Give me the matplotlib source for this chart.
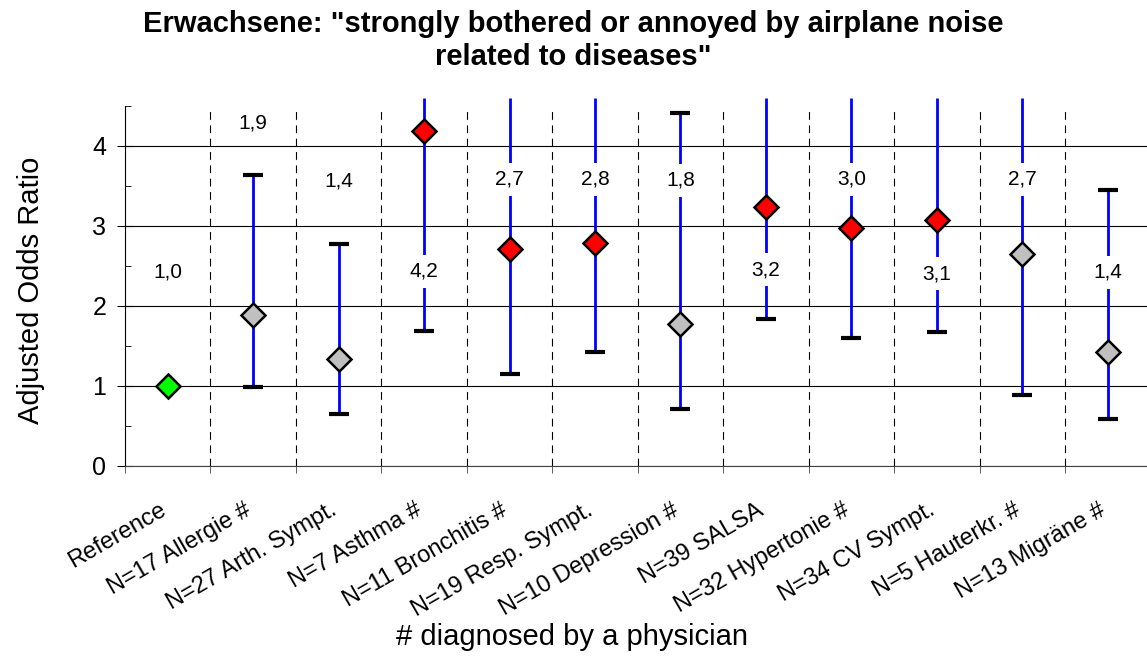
import numpy as np
import matplotlib.pyplot as plt
from matplotlib.ticker import FixedLocator, MultipleLocator
from matplotlib.transforms import ScaledTranslation

plt.rcParams['font.family'] = ['Liberation Sans', 'DejaVu Sans']

kategorien = ['Reference', 'N=17 Allergie #', 'N=27 Arth. Sympt.', 'N=7 Asthma #',
              'N=11 Bronchitis #', 'N=19 Resp. Sympt.', 'N=10 Depression #',
              'N=39 SALSA', 'N=32 Hypertonie #', 'N=34 CV Sympt.',
              'N=5 Hauterkr. #', 'N=13 Migräne #']
odds = [1.0, 1.89, 1.34, 4.18, 2.71, 2.79, 1.77, 3.24, 2.97, 3.07, 2.65, 1.42]
# untere / obere Grenze des Konfidenzintervalls, None = nicht vorhanden bzw. ausserhalb
unten = [None, 0.99, 0.65, 1.69, 1.15, 1.42, 0.71, 1.84, 1.60, 1.67, 0.89, 0.59]
oben = [None, 3.64, 2.77, None, None, None, 4.41, None, None, None, None, 3.45]
werte_text = ['1,0', '1,9', '1,4', '4,2', '2,7', '2,8', '1,8', '3,2', '3,0', '3,1', '2,7', '1,4']

# Position der Beschriftungen (Layout)
text_y = [2.42, 4.29, 3.56, 2.43, 3.58, 3.58, 3.57, 2.45, 3.58, 2.40, 3.58, 2.42]

ymax = 4.5
# offene Intervalle werden etwas ueber den Rand gezeichnet
abgeschnitten = 4.6
x = np.arange(len(kategorien))

fig = plt.figure(figsize=(11.47, 6.57), dpi=100)
ax = fig.add_axes([0.109, 0.291, 0.894, 0.548])
ax.set_xlim(-0.5, len(kategorien) - 0.5)
ax.set_ylim(0, ymax)

# Gitter
ax.set_yticks([0, 1, 2, 3, 4])
ax.yaxis.set_minor_locator(MultipleLocator(0.5))
ax.yaxis.grid(True, which='major', color='black', lw=0.8)
ax.set_axisbelow(True)
for b in x[:-1] + 0.5:
    ax.axvline(b, color='black', lw=0.8, ls=(0, (7, 5)), zorder=1)

for i in range(len(kategorien)):
    if unten[i] is None:
        farbe = '#00ff00'
    elif unten[i] > 1.0:
        farbe = '#ff0000'
    else:
        farbe = '#c0c0c0'
    if unten[i] is not None:
        top = oben[i] if oben[i] is not None else abgeschnitten
        ax.vlines(x[i], unten[i], top, color='#0000ff', lw=2, zorder=3, clip_on=False)
        ax.plot([x[i]], [unten[i]], marker='_', ms=15, mew=3, color='black', zorder=4)
        if oben[i] is not None:
            ax.plot([x[i]], [oben[i]], marker='_', ms=15, mew=3, color='black', zorder=4)
    ax.plot([x[i]], [odds[i]], marker='D', ms=12.5, mfc=farbe, mec='black', mew=1.8,
            zorder=6, clip_on=False)
    ax.text(x[i], text_y[i], werte_text[i], ha='center', va='center', fontsize=15,
            zorder=5, bbox=dict(boxstyle='square,pad=0.33', fc='white', ec='none'))

# Achsen
ax.spines['top'].set_visible(False)
ax.spines['right'].set_visible(False)
ax.spines['bottom'].set_color('#444444')
ax.set_xticks(x)
ax.xaxis.set_minor_locator(FixedLocator(np.arange(-0.5, len(kategorien), 1.0)))
ax.tick_params(axis='x', which='major', length=0, pad=24)
ax.tick_params(axis='x', which='minor', direction='inout', length=10, color='#444444')
ax.tick_params(axis='y', which='major', direction='inout', length=11, labelsize=18, pad=8)
ax.tick_params(axis='y', which='minor', direction='in', length=4)
ax.set_xticklabels(kategorien, rotation=30, ha='right', va='top', rotation_mode='anchor', fontsize=17)
verschiebung = ScaledTranslation(-9 / 100, 0, fig.dpi_scale_trans)
for lab in ax.get_xticklabels():
    lab.set_transform(lab.get_transform() + verschiebung)

fig.text(0.5, 1 - 24 / 657, 'Erwachsene: "strongly bothered or annoyed by airplane noise',
         ha='center', va='center', fontsize=21, fontweight='bold')
fig.text(0.5, 1 - 57 / 657, 'related to diseases"',
         ha='center', va='center', fontsize=21, fontweight='bold')
fig.text(0.027, 0.558, 'Adjusted Odds Ratio', rotation=90, ha='center', va='center', fontsize=21)
fig.text(0.499, 0.03, '# diagnosed by a physician', ha='center', va='center', fontsize=21)

plt.savefig('out.png', dpi=100)
